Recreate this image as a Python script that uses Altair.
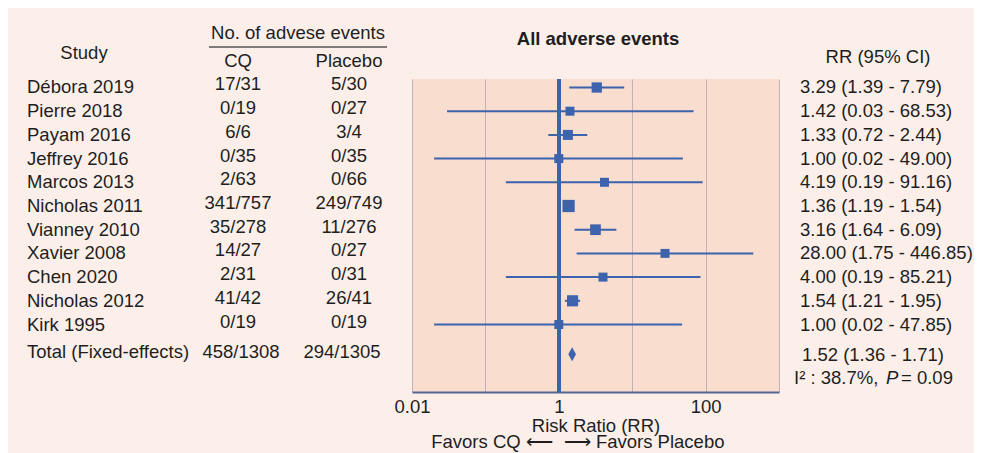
import altair as alt
import pandas as pd

# ---------------- data ----------------
studies = ["Débora 2019", "Pierre 2018", "Payam 2016", "Jeffrey 2016", "Marcos 2013",
           "Nicholas 2011", "Vianney 2010", "Xavier 2008", "Chen 2020", "Nicholas 2012",
           "Kirk 1995"]
cq_events = ["17/31", "0/19", "6/6", "0/35", "2/63", "341/757", "35/278", "14/27",
             "2/31", "41/42", "0/19"]
placebo_events = ["5/30", "0/27", "3/4", "0/35", "0/66", "249/749", "11/276", "0/27",
                  "0/31", "26/41", "0/19"]
rr = [3.29, 1.42, 1.33, 1.00, 4.19, 1.36, 3.16, 28.00, 4.00, 1.54, 1.00]
ci_low = [1.39, 0.03, 0.72, 0.02, 0.19, 1.19, 1.64, 1.75, 0.19, 1.21, 0.02]
ci_high = [7.79, 68.53, 2.44, 49.00, 91.16, 1.54, 6.09, 446.85, 85.21, 1.95, 47.85]
weight = [1.7, 0.2, 1.1, 0.2, 0.2, 85.0, 3.7, 0.2, 0.2, 9.0, 0.2]

total_label = "Total (Fixed-effects)"
total_cq = "458/1308"
total_placebo = "294/1305"
total_rr, total_low, total_high = 1.52, 1.36, 1.71
heterogeneity = ["I² : 38.7%,", "P", "= 0.09"]

# ---------------- tables ----------------
def fmt(r, l, h):
    return f"{r:.2f} ({l:.2f} - {h:.2f})"

df = pd.DataFrame({
    "study": studies, "cq": cq_events, "pl": placebo_events,
    "rr": rr, "lo": ci_low, "hi": ci_high, "w": weight,
    "row": list(range(len(studies))),
})
df["label"] = [fmt(r, l, h) for r, l, h in zip(rr, ci_low, ci_high)]

TOTAL_ROW = 11.25
tot = pd.DataFrame({
    "study": [total_label], "cq": [total_cq], "pl": [total_placebo],
    "rr": [total_rr], "lo": [total_low], "hi": [total_high], "row": [TOTAL_ROW],
    "label": [fmt(total_rr, total_low, total_high)],
})

# ---------------- style ----------------
FONT = "Liberation Sans, Arial, Helvetica, sans-serif"
FS = 18.5
BLUE = "#3d63ad"
TXT = "#1e1e1e"
GRID = "#c4b0b8"
PLOT_BG = "#f9ddcf"
PANEL_BG = "#fcefea"

W, H = 367, 313

Y = alt.Y("row:Q", axis=None,
          scale=alt.Scale(domain=[-0.3586, 12.848], reverse=True, nice=False, zero=False))
XS = alt.Scale(type="log", domain=[0.01, 1000], nice=False)
XAXIS = alt.Axis(values=[0.01, 0.1, 1, 10, 100, 1000], format="~g",
                 labelExpr="(datum.value < 0.02 || (datum.value > 0.5 && datum.value < 2) || (datum.value > 50 && datum.value < 200)) ? datum.label : ''",
                 grid=True, gridColor=GRID, gridWidth=1, gridOpacity=1,
                 ticks=False, domainColor="#55658f", domainWidth=2,
                 labelFont=FONT, labelFontSize=FS, labelColor=TXT, labelPadding=5,
                 labelFlush=False,
                 title="Risk Ratio (RR)", titleFont=FONT, titleFontSize=FS,
                 titleFontWeight="normal", titleColor=TXT, titlePadding=1)

base = alt.Chart(df)

ci_layer = base.mark_rule(color=BLUE, strokeWidth=2).encode(
    x=alt.X("lo:Q", scale=XS, axis=XAXIS), x2="hi:Q", y=Y)

ref_line = alt.Chart(df).mark_rule(color=BLUE, strokeWidth=3.5).encode(x=alt.datum(1, scale=XS))

squares = base.mark_square(color=BLUE, opacity=1, filled=True).encode(
    x=alt.X("rr:Q", scale=XS),
    y=Y,
    size=alt.Size("w:Q", scale=alt.Scale(type="log", domain=[0.2, 85], range=[81, 150]), legend=None),
)

diamond = alt.Chart(tot).mark_point(
    shape="M0,-1L0.55,0L0,1L-0.55,0Z", filled=True, color=BLUE, opacity=1, size=196
).encode(x=alt.X("rr:Q", scale=XS), y=Y)

def col_text(data, field, xpx, align="left", dy=0):
    return alt.Chart(data).mark_text(
        font=FONT, fontSize=FS, color=TXT, align=align, baseline="middle", dy=dy
    ).encode(x=alt.value(xpx), y=Y, text=f"{field}:N")

text_layers = [
    col_text(df, "study", -385, "left"),
    col_text(tot, "study", -385, "left", dy=-2),
    col_text(df, "cq", -174, "center", dy=-3),
    col_text(df, "pl", -63, "center", dy=-3),
    col_text(tot, "cq", -171, "center", dy=-2),
    col_text(tot, "pl", -70, "center", dy=-2),
    col_text(df, "label", 388, "left"),
    col_text(tot, "label", 390, "left", dy=1),
]

def hdr(text, xpx, ypx, align="center", weight="normal", style="normal"):
    return alt.Chart(pd.DataFrame({"t": [text]})).mark_text(
        font=FONT, fontSize=FS, color=TXT, align=align, baseline="middle",
        fontWeight=weight, fontStyle=style
    ).encode(x=alt.value(xpx), y=alt.value(ypx), text="t:N")

headers = [
    hdr("No. of advese events", -114, -46),
    hdr("Study", -328, -26),
    hdr("CQ", -174, -18),
    hdr("Placebo", -63, -18),
    hdr("RR (95% CI)", 466, -22),
    hdr("All adverse events", 186, -40, weight="bold"),
    hdr(heterogeneity[0], 382, 299, align="left"),
    hdr(heterogeneity[1], 474, 299, align="left", style="italic"),
    hdr(heterogeneity[2], 489, 299, align="left"),
]

underline = alt.Chart(pd.DataFrame({"t": [0]})).mark_rule(color="#555555", strokeWidth=1.5).encode(
    x=alt.value(-203), x2=alt.value(-25), y=alt.value(-32))

favors_l = alt.Chart(pd.DataFrame({"t": ["Favors CQ ⟵"]})).mark_text(
    font=FONT, fontSize=FS, color=TXT, align="right", baseline="middle", dx=-6
).encode(x=alt.datum(1, scale=XS), y=alt.value(363), text="t:N")
favors_r = alt.Chart(pd.DataFrame({"t": ["⟶ Favors Placebo"]})).mark_text(
    font=FONT, fontSize=FS, color=TXT, align="left", baseline="middle", dx=5
).encode(x=alt.datum(1, scale=XS), y=alt.value(363), text="t:N")

chart = alt.layer(
    ci_layer, ref_line, squares, diamond,
    *text_layers, underline, favors_l, favors_r, *headers
).properties(
    width=W, height=H,
    background=PANEL_BG,
    padding={"left": 404, "top": 71, "right": 195, "bottom": 61},
    autosize=alt.AutoSizeParams(type="none"),
).configure_view(fill=PLOT_BG, strokeWidth=0)

chart.save("out.html", embed_options={"renderer": "svg", "actions": False})
